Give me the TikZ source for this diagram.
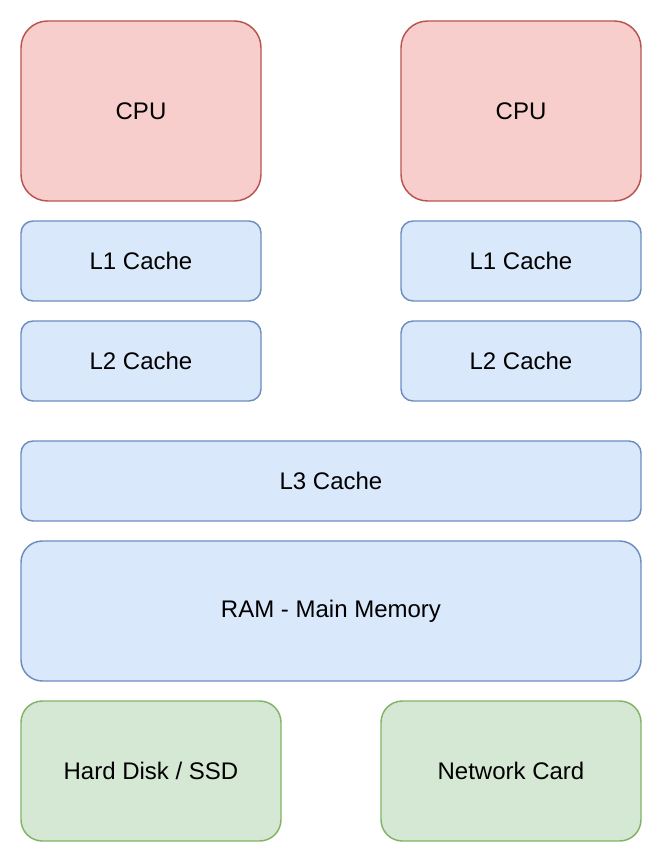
\documentclass[tikz,border=0pt]{standalone}
\usepackage{fontspec}
\setmainfont{Liberation Sans}
\usepackage{tikz}
\definecolor{cpufill}{HTML}{F8CECC}
\definecolor{cpudraw}{HTML}{B85450}
\definecolor{memfill}{HTML}{DAE8FC}
\definecolor{memdraw}{HTML}{6C8EBF}
\definecolor{iofill}{HTML}{D5E8D4}
\definecolor{iodraw}{HTML}{82B366}
\tikzset{
  box/.style={inner sep=0pt, line width=1.1pt, font=\fontsize{18}{21}\selectfont},
  cpu/.style={box, fill=cpufill, draw=cpudraw, rounded corners=20pt,
    minimum width=180pt, minimum height=135pt},
  cache/.style={box, fill=memfill, draw=memdraw, rounded corners=9pt,
    minimum width=180pt, minimum height=60pt},
  wide/.style={cache, minimum width=465pt},
  io/.style={box, fill=iofill, draw=iodraw, rounded corners=16pt,
    minimum width=195pt, minimum height=105pt}
}
\begin{document}
\begin{tikzpicture}[x=0.75pt, y=-0.75pt]
  \useasboundingbox (0,0) rectangle (662,862);
  % two cores with private caches
  \node[cpu]   (cpuA) at (141,111) {CPU};
  \node[cpu]   (cpuB) at (521,111) {CPU};
  \node[cache] (l1A)  at (141,261) {L1 Cache};
  \node[cache] (l1B)  at (521,261) {L1 Cache};
  \node[cache] (l2A)  at (141,361) {L2 Cache};
  \node[cache] (l2B)  at (521,361) {L2 Cache};
  % shared levels
  \node[wide]  (l3)   at (331,481) {L3 Cache};
  \node[wide, rounded corners=16pt, minimum height=105pt] (ram) at (331,611) {RAM - Main Memory};
  \node[io]    (disk) at (151,771) {Hard Disk / SSD};
  \node[io]    (net)  at (511,771) {Network Card};
\end{tikzpicture}
\end{document}
